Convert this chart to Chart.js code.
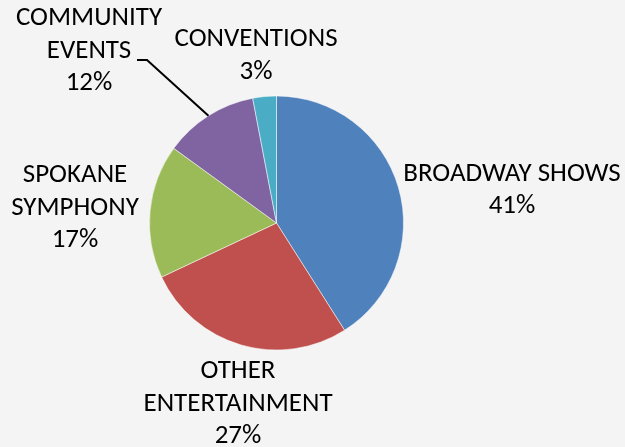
<!DOCTYPE html>
<html>
<head>
<meta charset="utf-8">
<script src="https://cdn.jsdelivr.net/npm/chart.js@4"></script>
<style>
  html, body { margin: 0; padding: 0; background: #F4F4F4; }
  #wrap { width: 625px; height: 447px; }
</style>
</head>
<body>
<div id="wrap"><canvas id="chart" width="625" height="447"></canvas></div>
<script>
// data
const categories = [["BROADWAY SHOWS"], ["OTHER", "ENTERTAINMENT"], ["SPOKANE", "SYMPHONY"], ["COMMUNITY", "EVENTS"], ["CONVENTIONS"]];
const shares = [41, 27, 17, 12, 3];
const colors = ["#4F81BD", "#C0504D", "#9BBB59", "#8064A2", "#4BACC6"];

// where the label blocks sit, relative to the pie centre
const labelOffsets = [[235.5, -33], [-38.5, 181], [-201.5, -15], [-187.5, -172], [-20.5, -167.5]];
const leaderSlice = 3;
const leaderStart = [[-139.5, -163], [-129.5, -163]];

const FONT = "27px Carlito, 'Open Sans', sans-serif";
const LINE_H = 32.5;

const labelPlugin = {
  id: "pieLabels",
  afterDraw(chart) {
    const ctx = chart.ctx;
    const arcs = chart.getDatasetMeta(0).data;
    const total = shares.reduce((a, b) => a + b, 0);
    ctx.save();
    ctx.font = FONT;
    ctx.fillStyle = "#000";
    ctx.textAlign = "center";
    ctx.textBaseline = "middle";
    arcs.forEach((arc, i) => {
      const lines = categories[i].concat([Math.round(shares[i] / total * 100) + "%"]);
      const cx = arc.x + labelOffsets[i][0];
      const cy = arc.y + labelOffsets[i][1] - (lines.length - 1) * LINE_H / 2;
      lines.forEach((t, k) => ctx.fillText(t, cx, cy + k * LINE_H));
    });

    // leader line for the small slice label
    const a = arcs[leaderSlice];
    const mid = (a.startAngle + a.endAngle) / 2;
    ctx.strokeStyle = "#000";
    ctx.lineWidth = 2;
    ctx.beginPath();
    ctx.moveTo(a.x + leaderStart[0][0], a.y + leaderStart[0][1]);
    ctx.lineTo(a.x + leaderStart[1][0], a.y + leaderStart[1][1]);
    ctx.lineTo(a.x + Math.cos(mid) * a.outerRadius, a.y + Math.sin(mid) * a.outerRadius);
    ctx.stroke();
    ctx.restore();
  }
};

const ctx = document.getElementById("chart").getContext("2d");
new Chart(ctx, {
  type: "pie",
  data: {
    labels: categories,
    datasets: [{
      data: shares,
      backgroundColor: colors,
      borderColor: "rgba(255,255,255,0.5)",
      borderWidth: 1
    }]
  },
  options: {
    responsive: false,
    animation: false,
    layout: { padding: { top: 95.5, bottom: 96.5, left: 149, right: 221 } },
    plugins: {
      legend: { display: false },
      tooltip: { enabled: false }
    }
  },
  plugins: [labelPlugin]
});
</script>
</body>
</html>
